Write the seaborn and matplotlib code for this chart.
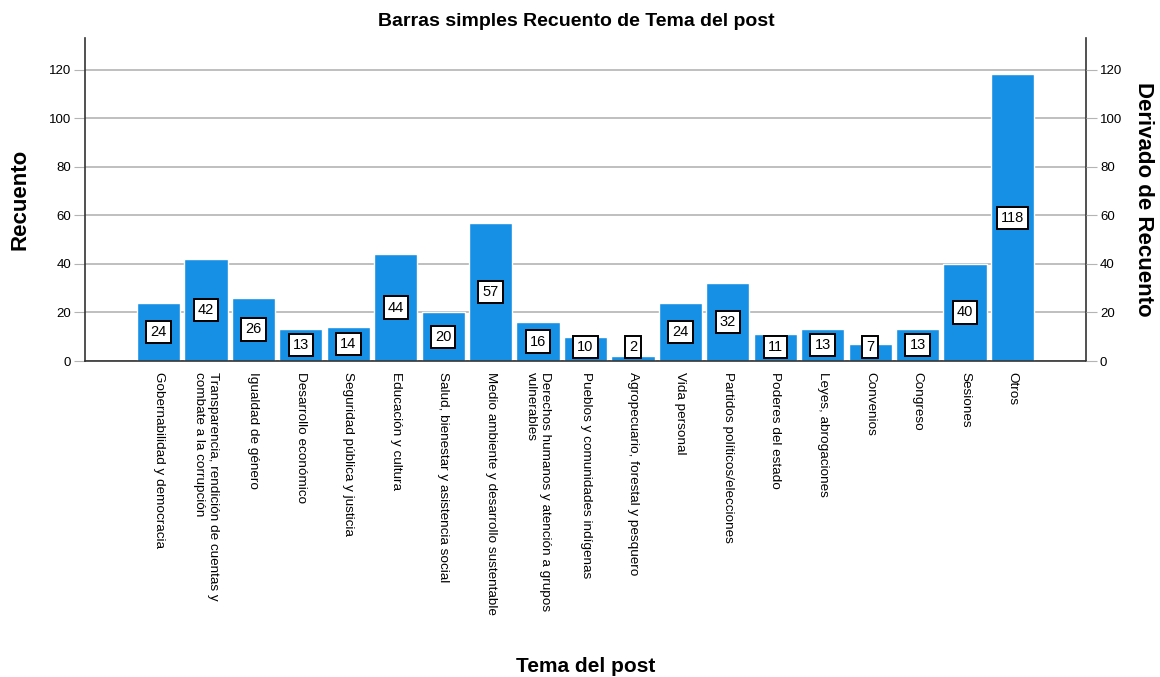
import numpy as np
import pandas as pd
import matplotlib
matplotlib.use('Agg')
import matplotlib.pyplot as plt
import seaborn as sns

temas = ['Gobernabilidad y democracia',
         'Transparencia, rendición de cuentas y\ncombate a la corrupción',
         'Igualdad de género',
         'Desarrollo económico',
         'Seguridad pública y justicia',
         'Educación y cultura',
         'Salud, bienestar y asistencia social',
         'Medio ambiente y desarrollo sustentable',
         'Derechos humanos y atención a grupos\nvulnerables',
         'Pueblos y comunidades indígenas',
         'Agropecuario, forestal y pesquero',
         'Vida personal',
         'Partidos políticos/elecciones',
         'Poderes del estado',
         'Leyes, abrogaciones',
         'Convenios',
         'Congreso',
         'Sesiones',
         'Otros']
recuento = [24, 42, 26, 13, 14, 44, 20, 57, 16, 10, 2, 24, 32, 11, 13, 7, 13, 40, 118]

sns.set_style('white')
plt.rcParams['font.family'] = ['Liberation Sans', 'DejaVu Sans']
plt.rcParams['text.color'] = 'black'
plt.rcParams['axes.labelcolor'] = 'black'
plt.rcParams['xtick.color'] = 'black'
plt.rcParams['ytick.color'] = 'black'

df = pd.DataFrame({'tema': temas, 'n': recuento})

fig = plt.figure(figsize=(11.6, 6.77), dpi=100)
ax = fig.add_axes([85/1160, 1 - 361/677, 1001/1160, 323/677])

sns.barplot(data=df, x='tema', y='n', color='#1590e5', saturation=1,
            width=0.91, ax=ax, zorder=2)

ax.set_ylim(0, 133)
ax.set_xlim(-1.55, len(temas) - 1 + 1.55)
ax.set_yticks(np.arange(0, 121, 20))
ax.yaxis.grid(True, color='#b4b4b4', linewidth=1.2, zorder=0)
ax.set_axisbelow(True)

# etiquetas de valor en cajas
for i, v in enumerate(recuento):
    ax.text(i, max(v / 2, 5.6), str(v), ha='center', va='center', fontsize=10.5,
            zorder=5,
            bbox=dict(boxstyle='square,pad=0.28', fc='white', ec='black', lw=1.4))

ax.tick_params(axis='y', length=8, color='#b4b4b4', labelsize=9.5, pad=2)
ax.tick_params(axis='x', length=0, labelsize=9.7, pad=8)
plt.setp(ax.get_xticklabels(), rotation=-90, ha='center', va='top',
         multialignment='left')

for s in ['left', 'bottom', 'right']:
    ax.spines[s].set_visible(True)
    ax.spines[s].set_color('#333333')
    ax.spines[s].set_linewidth(1.2)
ax.spines['top'].set_visible(False)

ax2 = ax.twinx()
ax2.set_ylim(ax.get_ylim())
ax2.set_yticks(np.arange(0, 121, 20))
ax2.tick_params(axis='y', length=8, color='#b4b4b4', labelsize=9.5, pad=2)
for s in ['left', 'bottom', 'right', 'top']:
    ax2.spines[s].set_visible(False)

ax.set_ylabel('Recuento', fontsize=16, fontweight='bold')
ax.yaxis.set_label_coords(-0.054, 0.5)
ax2.set_ylabel('Derivado de Recuento', fontsize=16, fontweight='bold',
               rotation=270, va='bottom')
ax2.yaxis.set_label_coords(1.047, 0.5)

ax.set_xlabel('Tema del post', fontsize=15, fontweight='bold')
ax.xaxis.set_label_coords(0.5, -0.915)

fig.text(576/1160, 1 - 13/677, 'Barras simples Recuento de Tema del post',
         ha='center', va='top', fontsize=14, fontweight='bold')

plt.savefig('out.png', dpi=100)
